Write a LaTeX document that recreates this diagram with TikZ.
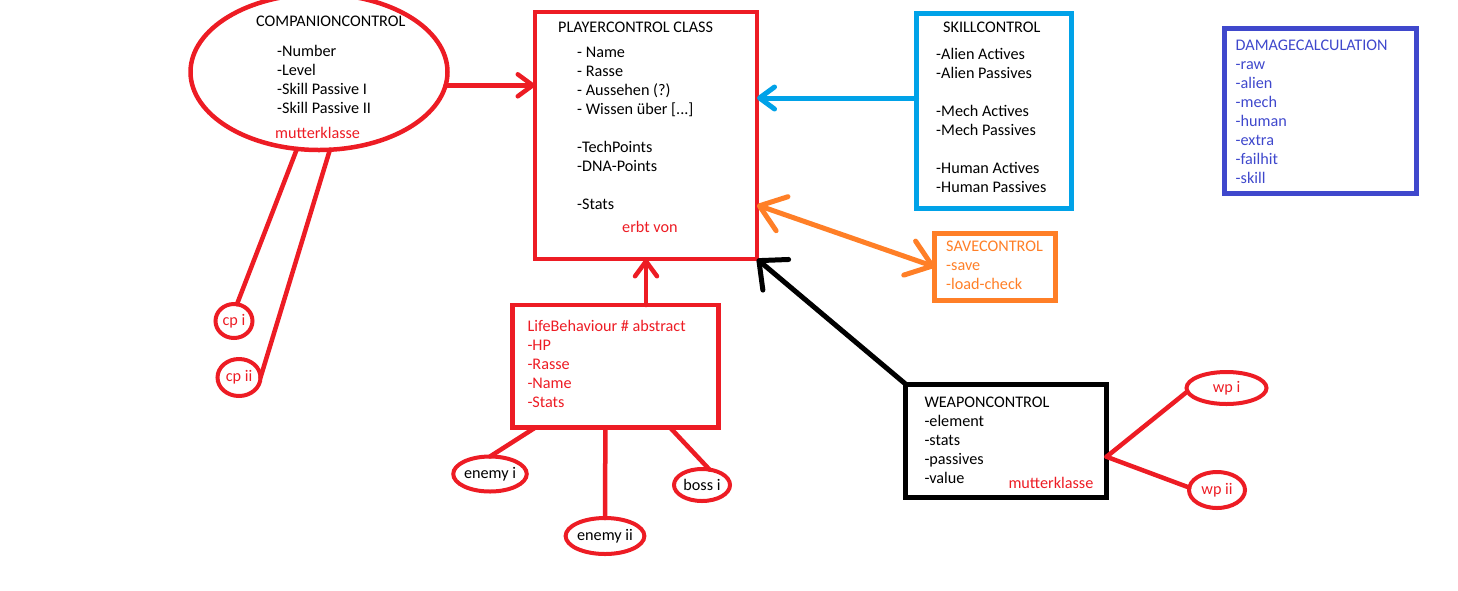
\documentclass[tikz,border=0pt]{standalone}
\usepackage{fontspec}
\setmainfont{Carlito}
\usetikzlibrary{arrows.meta,shapes.geometric}

\definecolor{paintred}{RGB}{237,28,36}
\definecolor{paintblue}{RGB}{0,162,232}
\definecolor{paintorange}{RGB}{255,127,39}
\definecolor{paintindigo}{RGB}{63,72,204}

\newcommand{\rows}[1]{\begin{tabular}[t]{@{}l@{}}#1\end{tabular}}

\tikzset{
  classbox/.style={draw, rectangle, anchor=north west, inner sep=0pt, outer sep=0pt},
  blob/.style={draw=paintred, ellipse, line width=4pt, inner sep=0pt, outer sep=0pt},
  txt/.style={anchor=base west, inner sep=0pt},
  connector/.style={line width=4.5pt, line cap=round},
  headarrow/.style={-{Straight Barb[length=15pt,width=22pt,round]}},
}

\begin{document}
\begin{tikzpicture}[x=1pt, y=-1pt, every node/.style={font=\fontsize{16.2}{19}\selectfont}]

  \useasboundingbox (0,0) rectangle (1458,590);

  % Companion
  \node[blob, line width=4.5pt, minimum width=257pt, minimum height=156pt] (companion) at (319,72) {};
  \node[txt] (comptitle) at (256,26) {COMPANIONCONTROL};
  \node[txt] (compfields) at (277,56) {\rows{-Number\\-Level\\-Skill Passive I\\-Skill Passive II}};
  \node[txt, text=paintred] (compmother) at (275,138) {mutterklasse};

  \node[blob, minimum width=37pt, minimum height=34pt, text=paintred] (cpone) at (234,321) {cp i};
  \node[blob, minimum width=43pt, minimum height=37pt, text=paintred] (cptwo) at (239,377.5) {cp ii};

  % Player
  \node[classbox, draw=paintred, line width=4.5pt, minimum width=222pt, minimum height=247pt] (player) at (535,12) {};
  \node[txt] (playertitle) at (558,32) {PLAYERCONTROL CLASS};
  \node[txt] (playerfields) at (577,57) {\rows{- Name\\- Rasse\\- Aussehen (?)\\- Wissen über [...]\\ \\-TechPoints\\-DNA-Points\\ \\-Stats}};
  \node[txt, text=paintred] (playerinherit) at (622,232) {erbt von};

  % Skills
  \node[classbox, draw=paintblue, line width=5pt, minimum width=155pt, minimum height=195pt] (skill) at (916.5,13.5) {};
  \node[txt] (skilltitle) at (943,32) {SKILLCONTROL};
  \node[txt] (skillfields) at (936,59) {\rows{-Alien Actives\\-Alien Passives\\ \\-Mech Actives\\-Mech Passives\\ \\-Human Actives\\-Human Passives}};

  % Damage
  \node[classbox, draw=paintindigo, line width=5pt, minimum width=192pt, minimum height=165pt] (damage) at (1224.5,28.3) {};
  \node[txt, text=paintindigo] (damagefields) at (1235.5,50) {\rows{DAMAGECALCULATION\\-raw\\-alien\\-mech\\-human\\-extra\\-failhit\\-skill}};

  % Save
  \node[classbox, draw=paintorange, line width=5pt, minimum width=120.3pt, minimum height=67pt] (save) at (934.7,233.3) {};
  \node[txt, text=paintorange] (savefields) at (946,251) {\rows{SAVECONTROL\\-save\\-load-check}};

  % Life
  \node[classbox, draw=paintred, line width=4.5pt, minimum width=205.8pt, minimum height=122.5pt] (life) at (512.5,305) {};
  \node[txt, text=paintred] (lifefields) at (527.3,331) {\rows{LifeBehaviour \# abstract\\-HP\\-Rasse\\-Name\\-Stats}};

  \node[blob, minimum width=67pt, minimum height=35pt] (enemyone) at (490,474) {enemy i};
  \node[blob, minimum width=70pt, minimum height=36pt] (enemytwo) at (605,536) {enemy ii};
  \node[blob, minimum width=56pt, minimum height=32pt] (bossone) at (702,485) {boss i};

  % Weapon
  \node[classbox, draw=black, line width=5pt, minimum width=201pt, minimum height=113.5pt] (weapon) at (905.5,384) {};
  \node[txt] (weaponfields) at (924.3,407) {\rows{WEAPONCONTROL\\-element\\-stats\\-passives\\-value}};
  \node[txt, text=paintred] (weaponmother) at (1008.3,488.3) {mutterklasse};

  \node[blob, minimum width=80pt, minimum height=32pt, text=paintred] (wpone) at (1226.5,388) {wp i};
  \node[blob, minimum width=56pt, minimum height=36pt, text=paintred] (wptwo) at (1217,490) {wp ii};

  % Arrows into the player
  \coordinate (skillport) at ([yshift=13pt]skill.west);
  \coordinate (saveport) at ([yshift=-69.5pt]player.east);
  \draw[connector, paintred, headarrow] (companion.-6) -- (player.west |- companion.-6);
  \draw[connector, paintblue, line width=5pt, headarrow] (skillport) -- (player.east |- skillport);
  \draw[connector, paintorange, line width=5pt, {Straight Barb[length=24pt,width=36pt,round]}-{Straight Barb[length=24pt,width=36pt,round]}] (saveport) -- (save.west);
  \draw[connector, black, line width=5pt, -{Straight Barb[length=22pt,width=40pt,round]}] (weapon.north west) -- (player.south east);
  \draw[connector, paintred, headarrow] (player.south |- life.north) -- (player.south);

  % Children
  \draw[connector, paintred] (companion.254) -- (cpone.80);
  \draw[connector, paintred] (companion.278) -- (cptwo.east);
  \draw[connector, paintred] ([xshift=-80pt]life.south) -- (enemyone.north);
  \draw[connector, paintred] ([xshift=-10pt]life.south) -- (enemytwo.north);
  \draw[connector, paintred] ([xshift=54.6pt]life.south) -- (bossone.64);
  \coordinate (weaponport) at ([yshift=-16pt]weapon.east);
  \draw[connector, paintred] (weaponport) -- (wpone.185);
  \draw[connector, paintred] (weaponport) -- (wptwo.175);

\end{tikzpicture}
\end{document}
